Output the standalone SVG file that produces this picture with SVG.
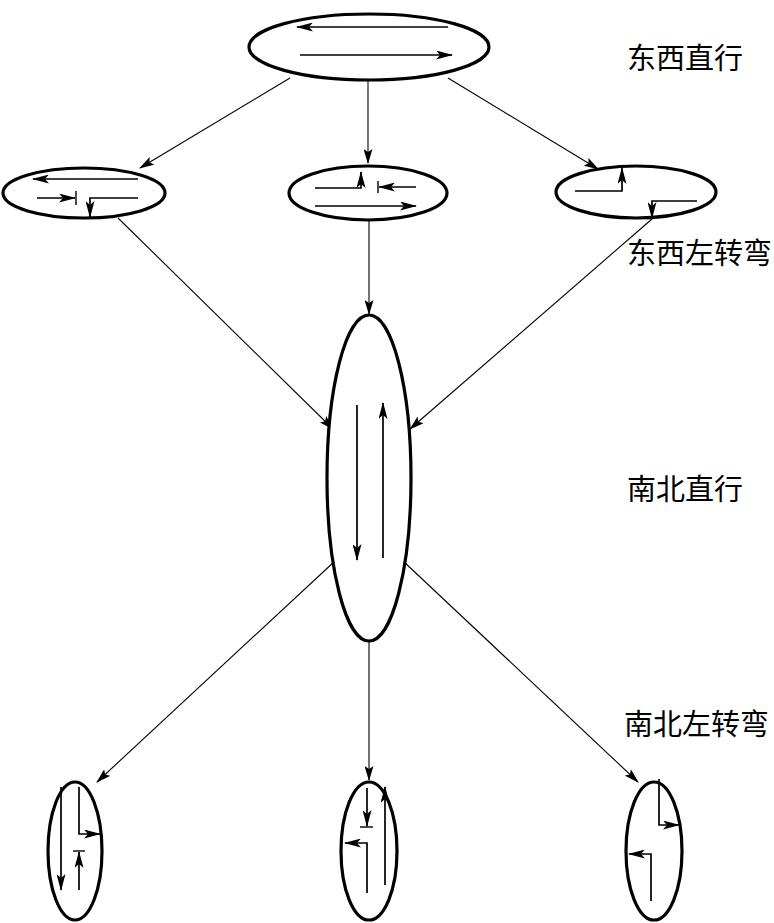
<svg xmlns="http://www.w3.org/2000/svg" width="774" height="923" viewBox="0 0 774 923">
<style>
.node ellipse{fill:#fff;stroke:#000;stroke-width:3.2}
.flow{fill:none;stroke:#000;stroke-width:1.7}
.tick{fill:none;stroke:#000;stroke-width:1.4}
.conn line{stroke:#000;stroke-width:1.1}
.lbl{font-family:"Noto Sans CJK SC","Noto Sans",sans-serif;font-size:29px;fill:#000;dominant-baseline:central}
</style>
<defs>
<marker id="ah" markerUnits="userSpaceOnUse" markerWidth="17" markerHeight="9" viewBox="0 0 17 9" refX="16" refY="4.5" orient="auto">
<path d="M0,0 L17,4.5 L0,9 L4,4.5 z" fill="#000"/>
</marker>
<marker id="ac" markerUnits="userSpaceOnUse" markerWidth="15" markerHeight="9" viewBox="0 0 15 9" refX="14" refY="4.5" orient="auto">
<path d="M0,0 L15,4.5 L0,9 L3,4.5 z" fill="#000"/>
</marker>
</defs>

<g id="connectors" class="conn">
<line x1="290" y1="78" x2="140" y2="168" marker-end="url(#ac)"/>
<line x1="368" y1="80" x2="368" y2="163" marker-end="url(#ac)"/>
<line x1="448" y1="78" x2="598" y2="169" marker-end="url(#ac)"/>
<line x1="118" y1="218" x2="333" y2="429" marker-end="url(#ac)"/>
<line x1="369" y1="220" x2="369" y2="314" marker-end="url(#ac)"/>
<line x1="652" y1="219" x2="410" y2="429" marker-end="url(#ac)"/>
<line x1="335" y1="561" x2="97" y2="782" marker-end="url(#ac)"/>
<line x1="369" y1="641" x2="369" y2="780" marker-end="url(#ac)"/>
<line x1="403" y1="561" x2="638" y2="782" marker-end="url(#ac)"/>
</g>

<g id="ew-straight" class="node">
<ellipse cx="369" cy="47" rx="120" ry="33"/>
<line class="flow" x1="448" y1="27" x2="297" y2="27" marker-end="url(#ah)"/>
<line class="flow" x1="300" y1="55" x2="452" y2="55" marker-end="url(#ah)"/>
</g>

<g id="ew-left-1" class="node">
<ellipse cx="84" cy="193" rx="81" ry="25"/>
<line class="flow" x1="138" y1="179" x2="33" y2="179" marker-end="url(#ah)"/>
<line class="flow" x1="37" y1="198" x2="75" y2="198" marker-end="url(#ah)"/>
<line class="tick" x1="76" y1="191" x2="76" y2="205"/>
<polyline class="flow" points="138,198 90,198 90,217" marker-end="url(#ah)"/>
</g>

<g id="ew-left-2" class="node">
<ellipse cx="368" cy="193" rx="79" ry="27"/>
<polyline class="flow" points="315,188 361,188 361,172" marker-end="url(#ah)"/>
<line class="tick" x1="378" y1="181" x2="378" y2="193"/>
<line class="flow" x1="416" y1="187" x2="379" y2="187" marker-end="url(#ah)"/>
<line class="flow" x1="315" y1="206" x2="416" y2="206" marker-end="url(#ah)"/>
</g>

<g id="ew-left-3" class="node">
<ellipse cx="636" cy="192" rx="80" ry="26"/>
<polyline class="flow" points="575,191 622,191 622,168" marker-end="url(#ah)"/>
<polyline class="flow" points="697,201 652,201 652,218" marker-end="url(#ah)"/>
</g>

<g id="ns-straight" class="node">
<ellipse cx="369" cy="478" rx="42" ry="163"/>
<line class="flow" x1="357" y1="405" x2="357" y2="560" marker-end="url(#ah)"/>
<line class="flow" x1="383" y1="558" x2="383" y2="403" marker-end="url(#ah)"/>
</g>

<g id="ns-left-1" class="node">
<ellipse cx="75" cy="851" rx="27" ry="69"/>
<line class="flow" x1="61" y1="787" x2="61" y2="890" marker-end="url(#ah)"/>
<polyline class="flow" points="79,787 79,834 100,834" marker-end="url(#ah)"/>
<line class="tick" x1="73" y1="851" x2="85" y2="851"/>
<line class="flow" x1="79" y1="890" x2="79" y2="852" marker-end="url(#ah)"/>
</g>

<g id="ns-left-2" class="node">
<ellipse cx="369" cy="851" rx="28" ry="69"/>
<line class="flow" x1="367" y1="788" x2="367" y2="826" marker-end="url(#ah)"/>
<line class="tick" x1="360" y1="827" x2="373" y2="827"/>
<line class="flow" x1="385" y1="885" x2="385" y2="787" marker-end="url(#ah)"/>
<polyline class="flow" points="367,893 367,843 345,843" marker-end="url(#ah)"/>
</g>

<g id="ns-left-3" class="node">
<ellipse cx="654" cy="851" rx="28" ry="69"/>
<polyline class="flow" points="659,779 659,825 679,825" marker-end="url(#ah)"/>
<polyline class="flow" points="651,901 651,854 629,854" marker-end="url(#ah)"/>
</g>

<g id="labels">
<text class="lbl" x="627" y="56">东西直行</text>
<text class="lbl" x="627" y="251">东西左转弯</text>
<text class="lbl" x="627" y="487">南北直行</text>
<text class="lbl" x="624" y="722">南北左转弯</text>
</g>
</svg>
